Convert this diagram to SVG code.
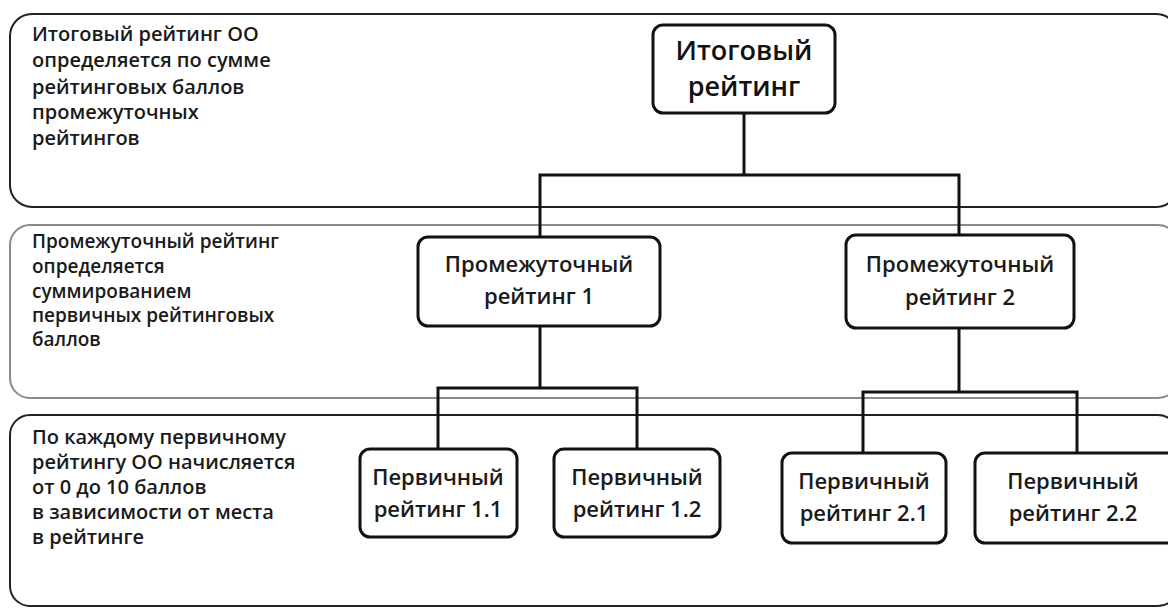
<svg xmlns="http://www.w3.org/2000/svg" width="1168" height="608" viewBox="0 0 1168 608">
<style>
.band{fill:none;stroke:#222;stroke-width:2}
.band2{fill:none;stroke:#8a8a8a;stroke-width:2}
.node{fill:#fff;stroke:#111;stroke-width:3}
.conn{fill:none;stroke:#111;stroke-width:3}
.desc{font-family:"Open Sans","Liberation Sans",sans-serif;font-weight:600;font-size:20px;fill:#1a1a1a}
.desc2{font-family:"Open Sans","Liberation Sans",sans-serif;font-weight:600;font-size:19px;fill:#1a1a1a}
.lbl{font-family:"Open Sans","Liberation Sans",sans-serif;font-weight:600;font-size:22px;fill:#1a1a1a;text-anchor:middle}
.big{font-family:"Open Sans","Liberation Sans",sans-serif;font-weight:600;font-size:27px;fill:#111;text-anchor:middle}
</style>
<rect width="1168" height="608" fill="#fff"/>
<g id="band1">
<rect class="band" x="10" y="14" width="1168" height="193" rx="22"/>
<text class="desc"><tspan x="32" y="41">Итоговый рейтинг ОО</tspan><tspan x="32" y="67">определяется по сумме</tspan><tspan x="32" y="94">рейтинговых баллов</tspan><tspan x="32" y="119">промежуточных</tspan><tspan x="32" y="145">рейтингов</tspan></text>
</g>
<g id="band2">
<rect class="band2" x="10" y="225" width="1168" height="173" rx="20"/>
<text class="desc2"><tspan x="32" y="248">Промежуточный рейтинг</tspan><tspan x="32" y="273">определяется</tspan><tspan x="32" y="298">суммированием</tspan><tspan x="32" y="322">первичных рейтинговых</tspan><tspan x="32" y="346">баллов</tspan></text>
</g>
<g id="band3">
<rect class="band" x="10" y="415" width="1168" height="191" rx="20"/>
<text class="desc"><tspan x="32" y="444">По каждому первичному</tspan><tspan x="32" y="469">рейтингу ОО начисляется</tspan><tspan x="32" y="494">от 0 до 10 баллов</tspan><tspan x="32" y="519">в зависимости от места</tspan><tspan x="32" y="544">в рейтинге</tspan></text>
</g>
<g id="connectors">
<polyline class="conn" points="744,113 744,175"/>
<polyline class="conn" points="540,237 540,175 959,175 959,235"/>
<polyline class="conn" points="540,326 540,388"/>
<polyline class="conn" points="438,449 438,388 637,388 637,449"/>
<polyline class="conn" points="959,328 959,392"/>
<polyline class="conn" points="863,453 863,392 1077,392 1077,453"/>
</g>
<g id="node-final">
<rect class="node" x="653" y="25" width="182" height="88" rx="10"/>
<text class="big"><tspan x="744" y="60">Итоговый</tspan><tspan x="744" y="96">рейтинг</tspan></text>
</g>
<g id="node-mid1">
<rect class="node" x="418" y="237" width="242" height="89" rx="10"/>
<text class="lbl"><tspan x="539" y="272">Промежуточный</tspan><tspan x="539" y="304">рейтинг 1</tspan></text>
</g>
<g id="node-mid2">
<rect class="node" x="846" y="235" width="228" height="93" rx="10"/>
<text class="lbl"><tspan x="960" y="272">Промежуточный</tspan><tspan x="960" y="305">рейтинг 2</tspan></text>
</g>
<g id="node-p11">
<rect class="node" x="360" y="449" width="157" height="88" rx="10"/>
<text class="lbl"><tspan x="438" y="485">Первичный</tspan><tspan x="438" y="517">рейтинг 1.1</tspan></text>
</g>
<g id="node-p12">
<rect class="node" x="554" y="449" width="166" height="88" rx="10"/>
<text class="lbl"><tspan x="637" y="485">Первичный</tspan><tspan x="637" y="517">рейтинг 1.2</tspan></text>
</g>
<g id="node-p21">
<rect class="node" x="782" y="453" width="164" height="90" rx="10"/>
<text class="lbl"><tspan x="864" y="489">Первичный</tspan><tspan x="864" y="521">рейтинг 2.1</tspan></text>
</g>
<g id="node-p22">
<rect class="node" x="975" y="453" width="204" height="90" rx="10"/>
<text class="lbl"><tspan x="1073" y="489">Первичный</tspan><tspan x="1073" y="521">рейтинг 2.2</tspan></text>
</g>
</svg>
